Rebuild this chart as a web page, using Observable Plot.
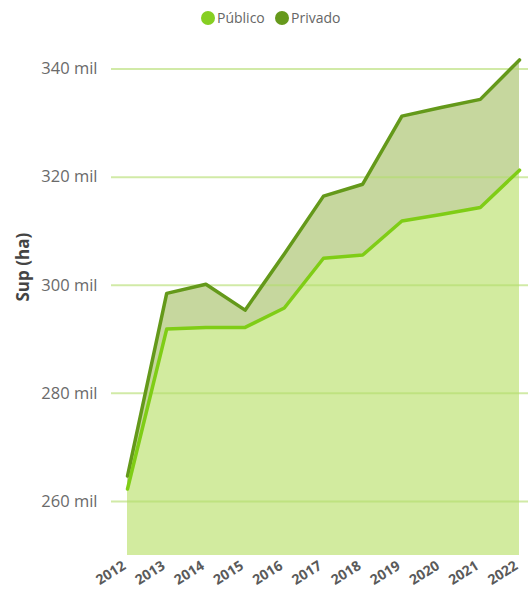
<!DOCTYPE html>
<html><head><meta charset="utf-8">
<script src="https://cdn.jsdelivr.net/npm/d3@7"></script>
<script src="https://cdn.jsdelivr.net/npm/@observablehq/plot@0.6"></script>
<style>
body{margin:0;background:#fff;font-family:"Open Sans",sans-serif;}
#legend{height:36px;position:relative;width:528px;}
.item{position:absolute;top:10px;display:flex;align-items:center;font-size:14px;color:#666;line-height:16px;}
.dot{width:14px;height:14px;border-radius:50%;margin-right:2px;}
</style></head><body>
<div id="legend"></div>
<div id="chart"></div>
<script>
const years = [2012, 2013, 2014, 2015, 2016, 2017, 2018, 2019, 2020, 2021, 2022];
const publico = [262300, 291900, 292200, 292200, 295800, 305000, 305600, 311900, 313100, 314400, 321300];
const privado = [264700, 298500, 300200, 295400, 305800, 316500, 318700, 331300, 332900, 334400, 341700];
const yTicks = [260000, 280000, 300000, 320000, 340000];
const seriesNames = ["Público", "Privado"];
const seriesColors = ["#86cf22", "#66991c"];

const data = years.map((year, i) => ({year, publico: publico[i], privado: privado[i]}));

const legend = document.getElementById("legend");
const lefts = [201, 275];
seriesNames.forEach((name, i) => {
  const it = document.createElement("div");
  it.className = "item";
  it.style.left = lefts[i] + "px";
  it.innerHTML = `<span class="dot" style="background:${seriesColors[i]}"></span><span>${name}</span>`;
  legend.appendChild(it);
});

const chart = Plot.plot({
  width: 528,
  height: 561,
  marginLeft: 111,
  marginRight: 0,
  marginTop: 11,
  marginBottom: 42,
  x: {domain: [2012, 2022], range: [127, 519]},
  y: {domain: [250000, 344000]},
  style: {fontFamily: "Open Sans", background: "white", overflow: "visible"},
  marks: [
    Plot.areaY(data, {x: "year", y: "publico", fill: "#d2eb9f", clip: true}),
    Plot.areaY(data, {x: "year", y1: "publico", y2: "privado", fill: "#c6d79e"}),
    Plot.ruleY(yTicks, {stroke: "#b2dc6c", strokeOpacity: 0.6, strokeWidth: 2}),
    Plot.lineY(data, {x: "year", y: "privado", stroke: "#64991a", strokeWidth: 3.5}),
    Plot.lineY(data, {x: "year", y: "publico", stroke: "#7fcd16", strokeWidth: 3.5}),
    Plot.axisY({ticks: yTicks, tickSize: 0, tickPadding: 14, tickFormat: d => `${d / 1000} mil`,
      fontSize: 16.5, fill: "#6a6a6a", label: null}),
    Plot.axisX({ticks: years, tickFormat: d => String(d), tickRotate: -32, tickSize: 0, tickPadding: 9,
      dx: -3, textAnchor: "end", fontSize: 14, fontWeight: "bold", fill: "#5a5a5a", label: null}),
    Plot.text(["Sup (ha)"], {frameAnchor: "left", dx: -88, rotate: -90, fontSize: 17,
      fontWeight: "bold", fill: "#444"})
  ]
});
document.getElementById("chart").appendChild(chart);
</script>
</body></html>
